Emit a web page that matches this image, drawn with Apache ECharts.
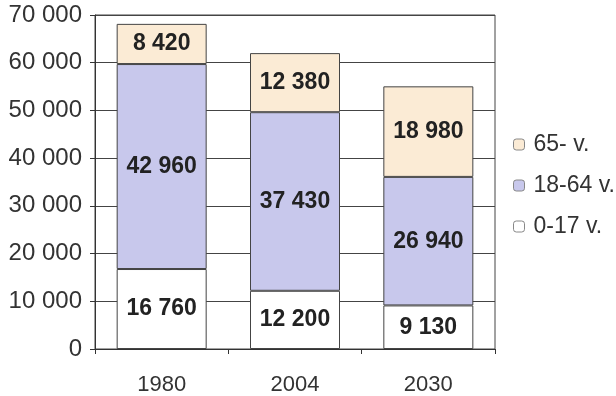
<!DOCTYPE html>
<html>
<head>
<meta charset="utf-8">
<script src="https://cdn.jsdelivr.net/npm/echarts@6/dist/echarts.min.js"></script>
<style>
html, body { margin: 0; padding: 0; background: #fff; }
#chart { width: 616px; height: 396px; }
</style>
</head>
<body>
<div id="chart"></div>
<script>
// vuodet ja ikäryhmät
var years = ['1980', '2004', '2030']
var age0to17 = [16760, 12200, 9130]
var age18to64 = [42960, 37430, 26940]
var age65plus = [8420, 12380, 18980]

function spaced(v) {
  return String(v).replace(/\B(?=(\d{3})+(?!\d))/g, ' ')
}

var font = 'Arial, "Liberation Sans", sans-serif'
var barLabel = {
  show: true,
  position: 'inside',
  fontFamily: font,
  fontSize: 23,
  fontWeight: 'bold',
  color: '#222',
  formatter: function (p) { return spaced(p.value) }
}

var chart = echarts.init(document.getElementById('chart'))
chart.setOption({
  backgroundColor: '#fff',
  animation: false,
  grid: {
    left: 95,
    right: 121,
    top: 15,
    bottom: 45,
    show: true,
    borderColor: '#444',
    borderWidth: 1
  },
  legend: {
    orient: 'vertical',
    left: 508,
    top: 128,
    itemWidth: 11,
    itemHeight: 11,
    itemGap: 18,
    data: ['65- v.', '18-64 v.', '0-17 v.'],
    itemStyle: { borderColor: '#888', borderWidth: 1 },
    textStyle: {
      fontFamily: font,
      fontSize: 23,
      color: '#333',
      padding: [0, 0, 0, 4]
    }
  },
  xAxis: {
    type: 'category',
    data: years,
    axisLine: { lineStyle: { color: '#333' } },
    axisTick: { show: true, length: 5, lineStyle: { color: '#333' } },
    axisLabel: {
      fontFamily: font,
      fontSize: 22,
      color: '#333',
      margin: 25
    }
  },
  yAxis: {
    type: 'value',
    min: 0,
    max: 70000,
    interval: 10000,
    axisLine: { show: true, lineStyle: { color: '#333' } },
    axisTick: { show: true, length: 5, lineStyle: { color: '#333' } },
    splitLine: { lineStyle: { color: '#444', width: 1 } },
    axisLabel: {
      fontFamily: font,
      fontSize: 24,
      color: '#333',
      margin: 13,
      formatter: spaced
    }
  },
  series: [
    {
      name: '0-17 v.',
      type: 'bar',
      stack: 'ika',
      barWidth: 90,
      data: age0to17,
      itemStyle: { color: '#ffffff', borderColor: '#444', borderWidth: 1 },
      label: barLabel
    },
    {
      name: '18-64 v.',
      type: 'bar',
      stack: 'ika',
      barWidth: 90,
      data: age18to64,
      itemStyle: { color: '#c8c8ec', borderColor: '#444', borderWidth: 1 },
      label: barLabel
    },
    {
      name: '65- v.',
      type: 'bar',
      stack: 'ika',
      barWidth: 90,
      data: age65plus,
      itemStyle: { color: '#fbebd5', borderColor: '#444', borderWidth: 1 },
      label: barLabel
    }
  ]
})
</script>
</body>
</html>
